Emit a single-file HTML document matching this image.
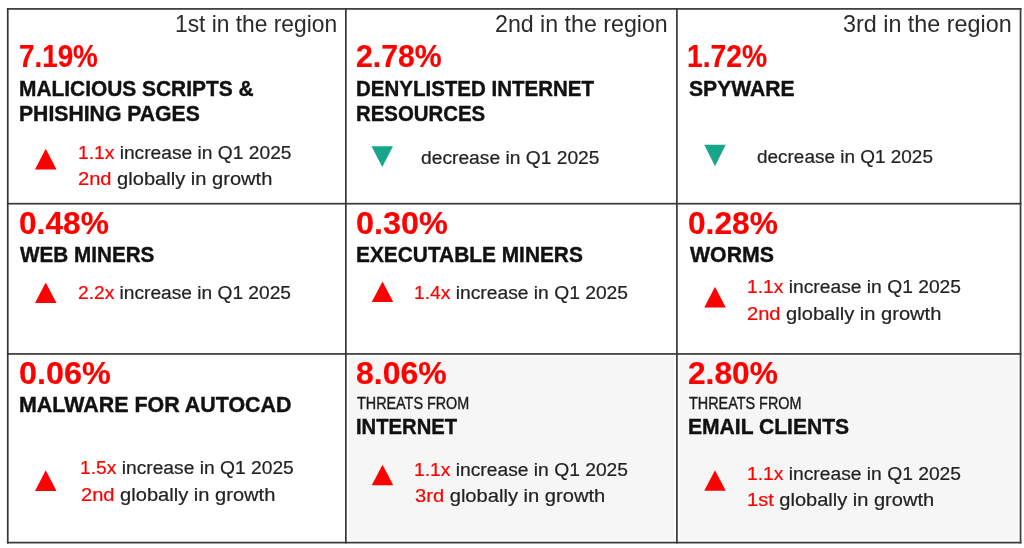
<!DOCTYPE html>
<html lang="en">
<head>
<meta charset="utf-8">
<title>Threat statistics by region</title>
<style>

html,body{margin:0;padding:0;background:#fff;}
body{width:1024px;height:548px;overflow:hidden;position:relative;font-family:"Liberation Sans", Arial, sans-serif;}
.board{position:absolute;left:0;top:0;width:1024px;height:548px;overflow:hidden;background:#fff;}
.cell{position:absolute;box-sizing:border-box;}
.shade{position:absolute;background:#f6f6f6;}
.ln{position:absolute;background:#363636;}
.t{position:absolute;white-space:pre;line-height:1;transform-origin:0 0;margin:0;padding:0;}
.pct{font-weight:700;color:#ff0000;-webkit-text-stroke:0.2px #ff0000;}
.tit{font-weight:700;color:#111;-webkit-text-stroke:0.4px #111;}
.lab{color:#2a2a2a;}
.sub{color:#1a1a1a;-webkit-text-stroke:0.35px;}
.inf{color:#222;-webkit-text-stroke:0.2px;}
.r{color:#ff0000;}
svg.tri{position:absolute;left:0;top:0;}

</style>
</head>
<body>
<div class="board">
<svg class="tri" width="1024" height="548" viewBox="0 0 1024 548">
<rect x="348.6" y="356.6" width="325.6" height="183.3" fill="#f6f6f6"/>
<rect x="679.6" y="356.6" width="338.8" height="183.3" fill="#f6f6f6"/>
<g fill="#383838">
<rect x="6.9" y="8.05" width="1.7" height="535.4"/>
<rect x="345" y="8.05" width="1.7" height="535.4"/>
<rect x="676.05" y="8.05" width="1.7" height="535.4"/>
<rect x="1019.7" y="8.05" width="1.7" height="535.4"/>
<rect x="6.9" y="8.05" width="1014.5" height="1.7"/>
<rect x="6.9" y="202.85" width="1014.5" height="1.7"/>
<rect x="6.9" y="353.1" width="1014.5" height="1.7"/>
<rect x="6.9" y="541.75" width="1014.5" height="1.7"/>
</g>
<polygon points="45.75,148.75 56.5,169.5 35,169.5" fill="#ff0000"/>
<polygon points="371.5,146.25 393,146.25 382.25,167" fill="#17a68a"/>
<polygon points="704.25,144.8 725.75,144.8 715,166.2" fill="#17a68a"/>
<polygon points="45.75,282.5 56.5,303 35,303" fill="#ff0000"/>
<polygon points="382.5,281.5 393.25,302 371.75,302" fill="#ff0000"/>
<polygon points="715,286.7 725.75,307.6 704.25,307.6" fill="#ff0000"/>
<polygon points="45.75,470.25 56.5,491 35,491" fill="#ff0000"/>
<polygon points="382.5,464.75 393.25,485.25 371.75,485.25" fill="#ff0000"/>
<polygon points="715,470.25 725.75,490.75 704.25,490.75" fill="#ff0000"/>
</svg>
<div class="t lab" id="t0" style="left:174.84px;top:12.00px;font-size:24px;transform:scaleX(0.9493);">1st in the region</div>
<div class="t lab" id="t1" style="left:495.04px;top:12.00px;font-size:24px;transform:scaleX(0.9659);">2nd in the region</div>
<div class="t lab" id="t2" style="left:843.28px;top:12.00px;font-size:24px;transform:scaleX(0.9722);">3rd in the region</div>
<div class="t pct" id="t3" style="left:18.87px;top:42.00px;font-size:30.7px;transform:scaleX(0.9059);">7.19%</div>
<div class="t pct" id="t4" style="left:356.01px;top:42.00px;font-size:30.7px;transform:scaleX(0.9853);">2.78%</div>
<div class="t pct" id="t5" style="left:687.39px;top:42.00px;font-size:30.7px;transform:scaleX(0.9207);">1.72%</div>
<div class="t pct" id="t6" style="left:18.97px;top:209.00px;font-size:30.7px;transform:scaleX(1.0323);">0.48%</div>
<div class="t pct" id="t7" style="left:355.94px;top:209.00px;font-size:30.7px;transform:scaleX(1.0557);">0.30%</div>
<div class="t pct" id="t8" style="left:688.47px;top:209.00px;font-size:30.7px;transform:scaleX(1.0323);">0.28%</div>
<div class="t pct" id="t9" style="left:18.94px;top:359.00px;font-size:30.7px;transform:scaleX(1.0557);">0.06%</div>
<div class="t pct" id="t10" style="left:356.22px;top:359.00px;font-size:30.7px;transform:scaleX(1.0409);">8.06%</div>
<div class="t pct" id="t11" style="left:688.47px;top:359.00px;font-size:30.7px;transform:scaleX(1.0323);">2.80%</div>
<div class="t tit" id="t12" style="left:18.80px;top:78.00px;font-size:21.8px;transform:scaleX(0.9588);">MALICIOUS SCRIPTS &amp;</div>
<div class="t tit" id="t13" style="left:18.79px;top:103.00px;font-size:21.8px;transform:scaleX(0.9715);">PHISHING PAGES</div>
<div class="t tit" id="t14" style="left:355.82px;top:78.00px;font-size:21.8px;transform:scaleX(0.9404);">DENYLISTED INTERNET</div>
<div class="t tit" id="t15" style="left:355.83px;top:103.00px;font-size:21.8px;transform:scaleX(0.9358);">RESOURCES</div>
<div class="t tit" id="t16" style="left:688.77px;top:78.00px;font-size:21.8px;transform:scaleX(0.9698);">SPYWARE</div>
<div class="t tit" id="t17" style="left:20.24px;top:243.50px;font-size:21.8px;transform:scaleX(0.9487);">WEB MINERS</div>
<div class="t tit" id="t18" style="left:355.80px;top:243.50px;font-size:21.8px;transform:scaleX(0.9574);">EXECUTABLE MINERS</div>
<div class="t tit" id="t19" style="left:689.74px;top:243.50px;font-size:21.8px;transform:scaleX(0.9766);">WORMS</div>
<div class="t tit" id="t20" style="left:18.77px;top:393.70px;font-size:21.8px;transform:scaleX(0.9827);">MALWARE FOR AUTOCAD</div>
<div class="t sub" id="t21" style="left:356.77px;top:395.75px;font-size:15.6px;transform:scaleX(0.9212);">THREATS FROM</div>
<div class="t tit" id="t22" style="left:355.84px;top:415.90px;font-size:21.8px;transform:scaleX(0.9281);">INTERNET</div>
<div class="t sub" id="t23" style="left:689.27px;top:395.75px;font-size:15.6px;transform:scaleX(0.9232);">THREATS FROM</div>
<div class="t tit" id="t24" style="left:688.29px;top:415.90px;font-size:21.8px;transform:scaleX(0.9666);">EMAIL CLIENTS</div>
<div class="t inf" id="t25" style="left:77.67px;top:143.60px;font-size:18px;transform:scaleX(1.0668);"><span class="r">1.1x</span> increase in Q1 2025</div>
<div class="t inf" id="t26" style="left:78.16px;top:170.10px;font-size:18px;transform:scaleX(1.1161);"><span class="r">2nd</span> globally in growth</div>
<div class="t inf" id="t27" style="left:421.20px;top:149.35px;font-size:18px;transform:scaleX(1.0679);">decrease in Q1 2025</div>
<div class="t inf" id="t28" style="left:756.71px;top:148.10px;font-size:18px;transform:scaleX(1.0528);">decrease in Q1 2025</div>
<div class="t inf" id="t29" style="left:78.20px;top:284.35px;font-size:18px;transform:scaleX(1.0642);"><span class="r">2.2x</span> increase in Q1 2025</div>
<div class="t inf" id="t30" style="left:414.16px;top:284.35px;font-size:18px;transform:scaleX(1.0694);"><span class="r">1.4x</span> increase in Q1 2025</div>
<div class="t inf" id="t31" style="left:746.66px;top:278.40px;font-size:18px;transform:scaleX(1.0694);"><span class="r">1.1x</span> increase in Q1 2025</div>
<div class="t inf" id="t32" style="left:747.16px;top:304.90px;font-size:18px;transform:scaleX(1.1161);"><span class="r">2nd</span> globally in growth</div>
<div class="t inf" id="t33" style="left:80.16px;top:459.10px;font-size:18px;transform:scaleX(1.0681);"><span class="r">1.5x</span> increase in Q1 2025</div>
<div class="t inf" id="t34" style="left:80.66px;top:486.10px;font-size:18px;transform:scaleX(1.1161);"><span class="r">2nd</span> globally in growth</div>
<div class="t inf" id="t35" style="left:414.16px;top:460.70px;font-size:18px;transform:scaleX(1.0694);"><span class="r">1.1x</span> increase in Q1 2025</div>
<div class="t inf" id="t36" style="left:414.94px;top:486.70px;font-size:18px;transform:scaleX(1.1187);"><span class="r">3rd</span> globally in growth</div>
<div class="t inf" id="t37" style="left:746.66px;top:464.85px;font-size:18px;transform:scaleX(1.0694);"><span class="r">1.1x</span> increase in Q1 2025</div>
<div class="t inf" id="t38" style="left:746.61px;top:491.00px;font-size:18px;transform:scaleX(1.1131);"><span class="r">1st</span> globally in growth</div>
</div>
</body>
</html>
